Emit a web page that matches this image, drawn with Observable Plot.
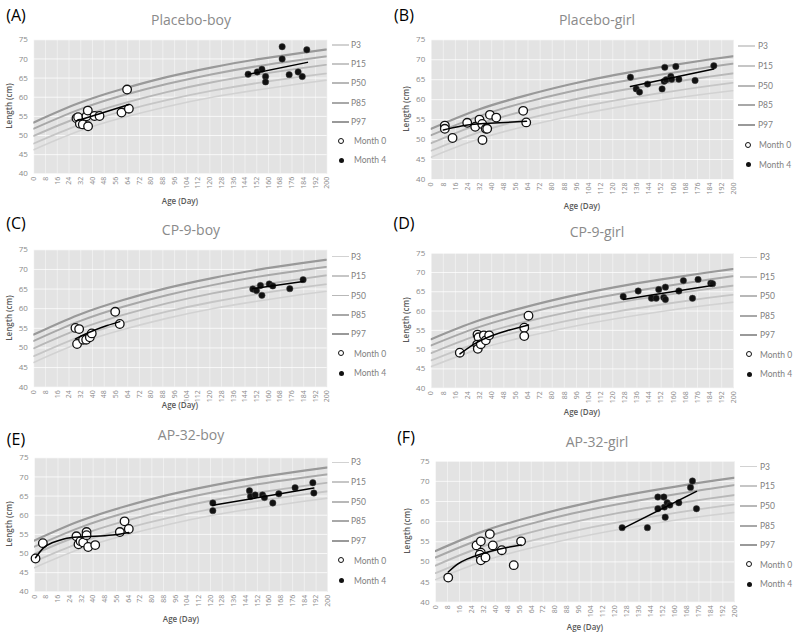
<!DOCTYPE html>
<html><head><meta charset="utf-8">
<script src="https://cdn.jsdelivr.net/npm/d3@7"></script>
<script src="https://cdn.jsdelivr.net/npm/@observablehq/plot@0.6"></script>
<style>
html,body{margin:0;padding:0;background:#fff;}
#page{position:relative;width:794px;height:634px;overflow:hidden;font-family:"Open Sans",Lato,sans-serif;}
.abs{position:absolute;white-space:nowrap;line-height:1;}
.c{transform:translate(-50%,-50%);}
.lab{font-size:16px;color:#000;}
.title{font-size:14px;color:#8a8a8a;}
.axt{font-size:8px;color:#595959;font-weight:600;}
.leg{font-family:"Liberation Sans Narrow",Lato,"Open Sans",sans-serif;font-size:8.5px;color:#808080;transform:translateY(-50%);}
</style></head><body><div id="page"></div>
<script>
// ---------- Reference growth percentiles (WHO length-for-age), by age in days ----------
const pctNames = ["P3", "P15", "P50", "P85", "P97"];
const refAges = [0, 30.4, 60.9, 91.3, 121.7, 152.2, 182.6, 213];
const boyP3  = [46.3, 51.1, 54.7, 57.6, 60.0, 61.9, 63.6, 65.1];
const boyP15 = [47.9, 52.7, 56.4, 59.3, 61.7, 63.7, 65.4, 66.9];
const boyP50 = [49.9, 54.7, 58.4, 61.4, 63.9, 65.9, 67.6, 69.2];
const boyP85 = [51.8, 56.7, 60.5, 63.5, 66.0, 68.1, 69.8, 71.4];
const boyP97 = [53.4, 58.4, 62.2, 65.3, 67.8, 69.9, 71.6, 73.2];
const girlP3  = [45.6, 50.0, 53.2, 55.8, 58.0, 59.9, 61.5, 62.9];
const girlP15 = [47.2, 51.7, 55.0, 57.6, 59.8, 61.7, 63.4, 64.9];
const girlP50 = [49.1, 53.7, 57.1, 59.8, 62.1, 64.0, 65.7, 67.3];
const girlP85 = [51.1, 55.7, 59.2, 62.0, 64.3, 66.3, 68.1, 69.8];
const girlP97 = [52.7, 57.4, 60.9, 63.8, 66.2, 68.2, 70.0, 71.6];

// ---------- Axis ticks ----------
const xTicks = [0,8,16,24,32,40,48,56,64,72,80,88,96,104,112,120,128,136,144,152,160,168,176,184,192,200];
const yTicks = [40,45,50,55,60,65,70,75];
const seriesNames = ["Month 0", "Month 4"];

// ---------- Panel titles ----------
const panelLetters = ["(A)", "(B)", "(C)", "(D)", "(E)", "(F)"];
const panelTitles = ["Placebo-boy", "Placebo-girl", "CP-9-boy", "CP-9-girl", "AP-32-boy", "AP-32-girl"];
const panelSex = ["boy", "girl", "boy", "girl", "boy", "girl"];

// ---------- Observations [age (day), length (cm)] ----------
const placeboBoyM0 = [[29.1,54.5],[30.2,54.8],[31.4,53.1],[33.4,52.9],[35.9,55.0],[36.8,56.5],[37.0,52.4],[41.4,55.1],[44.8,55.1],[59.8,56.0],[63.6,62.0],[64.8,57.0]];
const placeboBoyM4 = [[146.1,66.0],[152.3,66.6],[155.5,67.3],[158,65.4],[158,64.0],[169.3,73.2],[169.3,70.0],[174.1,65.9],[180.2,66.6],[183,65.4],[186.1,72.4]];
const placeboBoyT0 = [[29,53.8],[65,58.1]];
const placeboBoyT4 = [[146.5,66.0],[186.5,69.1]];

const placeboGirlM0 = [[9,53.5],[9,52.7],[14.1,50.4],[23.8,54.2],[29.1,53.2],[31.9,55.0],[33.7,53.9],[33.9,49.9],[36.1,52.7],[37,52.7],[38.8,56.2],[43,55.5],[60.8,57.2],[62.8,54.3]];
const placeboGirlM4 = [[131.7,65.6],[135.5,62.7],[137.7,61.9],[143,63.9],[152.6,62.7],[154.4,68.1],[154,64.6],[155.3,65.0],[158.4,65.8],[158.9,65.1],[161.7,68.3],[163.7,65.1],[174.4,64.8],[186.8,68.5]];
const placeboGirlT0 = [[8,52.4],[20,53.4],[35,54.0],[63,54.6]];
const placeboGirlT4 = [[131.7,63.3],[186.8,67.7]];

const cp9BoyM0 = [[28.4,55.1],[30.9,54.8],[29.5,51.0],[33.6,52.1],[35.7,52.1],[38.2,52.7],[39.5,53.7],[55.5,59.2],[58.6,56.1]];
const cp9BoyM4 = [[149.3,65.0],[151.8,64.6],[154.5,65.9],[155.5,63.4],[160.5,66.3],[162.9,65.8],[174.5,65.1],[183.6,67.4]];
const cp9BoyT0 = [[28.4,52.3],[40,54.3],[50,55.7],[58.6,56.7]];
const cp9BoyT4 = [[149.3,65.1],[183.6,66.9]];

const cp9GirlM0 = [[18.9,49.2],[30.6,53.9],[31.3,53.2],[30.4,51.3],[30.8,50.2],[32.8,51.4],[34.8,53.7],[36.1,52.4],[38.3,53.7],[61.5,55.7],[61.5,53.5],[64.3,58.8]];
const cp9GirlM4 = [[126.9,63.8],[136.8,65.2],[145.6,63.3],[148.7,63.3],[150.4,65.6],[154.8,66.2],[153.7,63.5],[154.8,63.0],[163.7,65.2],[166.7,67.9],[176.4,68.2],[172.7,63.3],[184.8,67.2],[186,67.1]];
const cp9GirlT0 = [[19,48.9],[30,51.8],[40,53.6],[50,54.9],[64.3,56.4]];
const cp9GirlT4 = [[126.9,63.0],[185.7,66.6]];

const ap32BoyM0 = [[0.7,48.7],[5.7,52.7],[28.6,54.5],[30,52.4],[31.4,53.2],[33.2,52.9],[35.5,55.6],[35.5,54.8],[36.6,51.7],[41.4,52.2],[58.2,55.6],[61.4,58.4],[64.3,56.4]];
const ap32BoyM4 = [[121.6,63.2],[121.6,61.2],[146.6,66.4],[147.3,64.9],[150.5,65.3],[155.5,65.3],[156.8,64.6],[162.5,63.2],[166.6,65.6],[177.7,67.2],[189.8,68.5],[190.5,65.8]];
const ap32BoyT0 = [[0.7,48.9],[6,51.4],[12,52.8],[20,53.8],[30,54.3],[45,54.6],[55,54.9],[64.3,55.5]];
const ap32BoyT4 = [[121.6,62.6],[190.5,67.1]];

const ap32GirlM0 = [[8.5,46.1],[27.4,54.1],[30.3,55.1],[30.3,52.3],[29.6,51.8],[30.3,50.4],[33.4,51.1],[36.3,56.9],[38.3,54.1],[44.3,52.9],[52.3,49.2],[57.2,55.1]];
const ap32GirlM4 = [[124.7,58.5],[141.6,58.5],[148.6,66.1],[148.6,63.2],[152.6,66.1],[153,63.6],[153.5,61.1],[154.8,64.7],[156.6,64.1],[162.6,64.7],[170.4,68.5],[171.7,70.1],[174.4,63.2]];
const ap32GirlT0 = [[8.5,47.5],[15,49.5],[21,50.7],[30,51.9],[43,53.2],[57.2,54.2]];
const ap32GirlT4 = [[124.7,58.2],[174.4,67.5]];

// ---------- Styling / layout (page pixels) ----------
const pctColors = ["#d2d2d2", "#c6c6c6", "#b8b8b8", "#a8a8a8", "#999999"];
const pctWidths = [1.6, 1.8, 1.9, 2.0, 2.2];
const layout = [
  {left:0,   top:0,   fx:[33.3,326.7], fy:[39.3,173.3], lab:[16,15],  title:[191,20],  ylab:[9,106],  xlab:[180,201], leg:{line:332, text:351, mk:341.5, mtext:354, y:45, step:19.2}},
  {left:397, top:0,   fx:[430.7,733.3],fy:[39.3,179],   lab:[404,15], title:[597,20],  ylab:[406,109], xlab:[582,206], leg:{line:738, text:758, mk:748, mtext:759, y:46, step:19.8}},
  {left:0,   top:210, fx:[33.3,326.7], fy:[249.3,386.7],lab:[16,223], title:[191,230], ylab:[9,318],  xlab:[180,405], leg:{line:332, text:351, mk:341.5, mtext:354, y:256.7, step:19.4}},
  {left:397, top:210, fx:[430.7,733.3],fy:[252.7,387.7],lab:[404,223],title:[597,232], ylab:[406,320], xlab:[582,412], leg:{line:740, text:760, mk:749, mtext:760, y:257.3, step:19.5}},
  {left:0,   top:420, fx:[34,327.3],   fy:[457.3,591.3],lab:[16,439], title:[191,435], ylab:[9,524],  xlab:[181,619], leg:{line:332, text:351, mk:341.5, mtext:354, y:462.3, step:19.7}},
  {left:397, top:420, fx:[435,734.3],  fy:[460.7,601.7],lab:[406,437],title:[597,442], ylab:[407,531], xlab:[585,627], leg:{line:740, text:760, mk:749, mtext:760, y:466.7, step:19.6}}
];
const panelData = [
  [placeboBoyM0, placeboBoyM4, placeboBoyT0, placeboBoyT4],
  [placeboGirlM0, placeboGirlM4, placeboGirlT0, placeboGirlT4],
  [cp9BoyM0, cp9BoyM4, cp9BoyT0, cp9BoyT4],
  [cp9GirlM0, cp9GirlM4, cp9GirlT0, cp9GirlT4],
  [ap32BoyM0, ap32BoyM4, ap32BoyT0, ap32BoyT4],
  [ap32GirlM0, ap32GirlM4, ap32GirlT0, ap32GirlT4]
];

const page = document.getElementById("page");
function addText(cls, txt, x, y, extra) {
  const d = document.createElement("div");
  d.className = "abs " + cls;
  d.textContent = txt;
  d.style.left = x + "px"; d.style.top = y + "px";
  if (extra) Object.assign(d.style, extra);
  page.appendChild(d);
  return d;
}
function addBox(x, y, w, h, style) {
  const d = document.createElement("div");
  d.className = "abs";
  Object.assign(d.style, {left: x + "px", top: y + "px", width: w + "px", height: h + "px"}, style);
  page.appendChild(d);
}

layout.forEach((L, i) => {
  const pct = panelSex[i] === "boy"
    ? [boyP3, boyP15, boyP50, boyP85, boyP97]
    : [girlP3, girlP15, girlP50, girlP85, girlP97];
  const [m0, m4, t0, t4] = panelData[i];
  const width = L.fx[1] + 6 - L.left;
  const svg = Plot.plot({
    width, height: 211,
    marginLeft: L.fx[0] - L.left, marginRight: 6,
    marginTop: L.fy[0] - L.top, marginBottom: L.top + 211 - L.fy[1],
    x: {domain: [0, 200]},
    y: {domain: [40, 75]},
    style: {fontFamily: '"Open Sans", Lato, sans-serif', color: "#8a8a8a", background: "transparent", overflow: "visible"},
    marks: [
      Plot.frame({fill: "url(#dither)", stroke: null}),
      Plot.gridY(yTicks, {stroke: "#ffffff", strokeOpacity: 0.75}),
      Plot.gridX(xTicks, {stroke: "#ffffff", strokeOpacity: 0.45}),
      Plot.axisY(yTicks, {tickSize: 0, tickPadding: 6, fontSize: 8, label: null}),
      Plot.axisX(xTicks, {tickSize: 0, tickPadding: 3, tickRotate: -90, fontSize: 7, label: null}),
      ...pct.map((vals, k) => Plot.line(d3.zip(refAges, vals), {stroke: pctColors[k], strokeWidth: pctWidths[k], curve: "natural", clip: true})),
      Plot.dot(m0, {r: 4.3, fill: "#ffffff", stroke: "#111", strokeWidth: 1.3}),
      Plot.dot(m4, {r: 3.2, fill: "#111", stroke: "#444", strokeWidth: 0.5}),
      Plot.line(t0, {stroke: "#000", strokeWidth: 1.5, curve: "natural"}),
      Plot.line(t4, {stroke: "#000", strokeWidth: 1.5, curve: "natural"})
    ]
  });
  svg.insertAdjacentHTML("afterbegin",
    '<defs><pattern id="dither" width="2" height="2" patternUnits="userSpaceOnUse">' +
    '<rect width="2" height="2" fill="#ececec"/><rect width="1" height="1" fill="#d9d9d9"/>' +
    '<rect x="1" y="1" width="1" height="1" fill="#dcdcdc"/></pattern></defs>');
  Object.assign(svg.style, {position: "absolute", left: L.left + "px", top: L.top + "px"});
  page.appendChild(svg);

  addText("lab c", panelLetters[i], L.lab[0], L.lab[1]);
  addText("title c", panelTitles[i], L.title[0], L.title[1]);
  addText("axt c", "Length (cm)", L.ylab[0], L.ylab[1], {transform: "translate(-50%,-50%) rotate(-90deg)"});
  addText("axt c", "Age (Day)", L.xlab[0], L.xlab[1]);

  // legend
  const g = L.leg;
  pctNames.forEach((name, k) => {
    const y = g.y + k * g.step;
    addBox(g.line, y - pctWidths[k] / 2, 17, pctWidths[k], {background: pctColors[k]});
    addText("leg", name, g.text, y);
  });
  seriesNames.forEach((name, k) => {
    const y = g.y + (5 + k) * g.step;
    if (k === 0) addBox(g.mk - 3.5, y - 3.5, 4, 4, {border: "1.5px solid #111", borderRadius: "50%", background: "#fff"});
    else addBox(g.mk - 2.5, y - 2.5, 5, 5, {borderRadius: "50%", background: "#111"});
    addText("leg", name, g.mtext, y);
  });
});
</script></body></html>
